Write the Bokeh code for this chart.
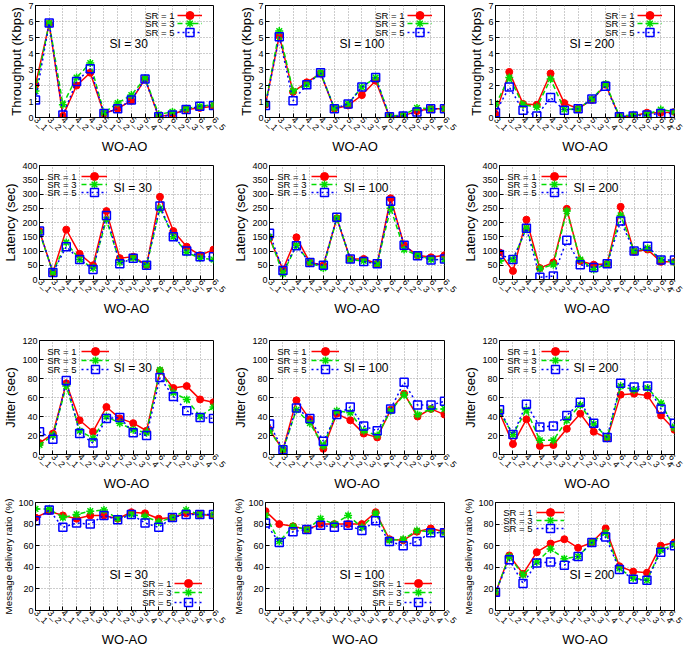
import math
from bokeh.plotting import figure
from bokeh.layouts import column, row
from bokeh.models import FixedTicker, Legend, LegendItem, Label, Range1d
from bokeh.embed import file_html
from bokeh.resources import INLINE

# ---------------- data ----------------
categories = ["3_1", "3_2", "4_1", "4_2", "4_3", "5_1", "5_2", "5_3", "5_4",
              "6_1", "6_2", "6_3", "6_4", "6_5"]
si_values = [30, 100, 200]
sr_labels = ["SR = 1", "SR = 3", "SR = 5"]

# Throughput (Kbps)
thr_si30_sr1 = [2.05, 5.85, 0.10, 2.00, 2.80, 0.25, 0.55, 1.05, 2.40, 0.05, 0.20, 0.50, 0.60, 0.70]
thr_si30_sr3 = [1.65, 5.90, 0.80, 2.50, 3.40, 0.30, 0.90, 1.40, 2.45, 0.20, 0.35, 0.55, 0.70, 0.80]
thr_si30_sr5 = [1.10, 5.90, 0.15, 2.25, 3.05, 0.25, 0.55, 1.10, 2.40, 0.05, 0.15, 0.50, 0.70, 0.75]
thr_si100_sr1 = [0.80, 5.10, 1.60, 2.20, 2.75, 0.55, 0.75, 1.40, 2.30, 0.05, 0.10, 0.40, 0.55, 0.55]
thr_si100_sr3 = [0.85, 5.40, 1.65, 2.05, 2.80, 0.60, 0.85, 1.90, 2.50, 0.10, 0.15, 0.60, 0.55, 0.55]
thr_si100_sr5 = [0.75, 5.05, 1.05, 2.05, 2.80, 0.55, 0.85, 1.90, 2.50, 0.05, 0.10, 0.35, 0.55, 0.55]
thr_si200_sr1 = [0.20, 2.85, 0.85, 0.80, 2.75, 0.90, 0.55, 1.10, 2.05, 0.05, 0.10, 0.30, 0.30, 0.35]
thr_si200_sr3 = [0.80, 2.50, 0.80, 0.65, 2.40, 0.50, 0.55, 1.15, 2.10, 0.10, 0.15, 0.20, 0.50, 0.35]
thr_si200_sr5 = [0.30, 1.90, 0.45, 0.10, 1.25, 0.45, 0.55, 1.15, 1.95, 0.05, 0.10, 0.15, 0.25, 0.25]

# Latency (sec)
lat_si30_sr1 = [170, 25, 175, 90, 50, 240, 75, 80, 50, 290, 170, 115, 85, 105]
lat_si30_sr3 = [165, 25, 130, 70, 40, 210, 60, 75, 50, 250, 150, 95, 75, 70]
lat_si30_sr5 = [170, 25, 115, 70, 35, 225, 55, 75, 50, 258, 150, 100, 80, 80]
lat_si100_sr1 = [145, 35, 148, 60, 50, 215, 72, 72, 55, 285, 120, 85, 78, 85]
lat_si100_sr3 = [150, 20, 120, 60, 40, 215, 70, 65, 55, 250, 105, 85, 70, 70]
lat_si100_sr5 = [162, 32, 118, 60, 50, 218, 72, 63, 55, 275, 120, 83, 68, 72]
lat_si200_sr1 = [95, 30, 210, 40, 60, 248, 65, 52, 55, 255, 97, 105, 62, 62]
lat_si200_sr3 = [65, 70, 180, 38, 52, 240, 70, 35, 55, 225, 100, 110, 70, 60]
lat_si200_sr5 = [88, 70, 180, 8, 12, 138, 52, 42, 55, 205, 100, 117, 68, 68]

# Jitter (sec)
jit_si30_sr1 = [12, 22, 75, 36, 24, 50, 38, 33, 25, 88, 70, 72, 58, 55]
jit_si30_sr3 = [10, 20, 72, 25, 17, 40, 33, 26, 23, 89, 65, 58, 40, 50]
jit_si30_sr5 = [24, 16, 78, 22, 12, 38, 39, 23, 20, 81, 61, 46, 39, 38]
jit_si100_sr1 = [26, 5, 57, 37, 6, 43, 36, 22, 18, 47, 64, 40, 48, 42]
jit_si100_sr3 = [25, 5, 47, 33, 9, 46, 44, 25, 20, 46, 63, 42, 48, 48]
jit_si100_sr5 = [32, 5, 49, 38, 14, 42, 50, 30, 25, 48, 76, 52, 52, 56]
jit_si200_sr1 = [44, 11, 37, 9, 10, 27, 43, 24, 17, 63, 64, 62, 41, 26]
jit_si200_sr3 = [45, 21, 47, 15, 15, 36, 52, 32, 18, 72, 68, 70, 54, 28]
jit_si200_sr5 = [47, 21, 53, 29, 30, 41, 55, 33, 18, 75, 71, 72, 48, 33]

# Message delivery ratio (%)
mdr_si30_sr1 = [86, 92, 88, 85, 88, 88, 85, 91, 90, 85, 86, 90, 89, 88]
mdr_si30_sr3 = [94, 94, 86, 89, 92, 93, 85, 89, 87, 82, 86, 93, 89, 89]
mdr_si30_sr5 = [83, 93, 77, 81, 80, 88, 84, 89, 81, 77, 86, 89, 89, 89]
mdr_si100_sr1 = [92, 80, 78, 75, 80, 80, 80, 80, 91, 66, 65, 73, 76, 73]
mdr_si100_sr3 = [88, 64, 78, 75, 85, 80, 88, 77, 90, 65, 66, 74, 73, 72]
mdr_si100_sr5 = [81, 63, 73, 75, 79, 77, 79, 74, 83, 64, 60, 64, 72, 72]
mdr_si200_sr1 = [16, 51, 34, 54, 62, 66, 58, 63, 76, 41, 36, 35, 60, 63]
mdr_si200_sr3 = [17, 50, 33, 45, 57, 48, 50, 63, 72, 39, 30, 28, 56, 61]
mdr_si200_sr5 = [17, 47, 25, 44, 45, 42, 50, 63, 68, 38, 29, 28, 54, 60]

metric_labels = ["Throughput (Kbps)", "Latency (sec)", "Jitter (sec)",
                 "Message delivery ratio (%)"]
thr_ticks = [0, 1, 2, 3, 4, 5, 6, 7]
lat_ticks = [0, 50, 100, 150, 200, 250, 300, 350, 400]
jit_ticks = [0, 20, 40, 60, 80, 100, 120]
mdr_ticks = [0, 20, 40, 60, 80, 100]

grid_data = [
    [[thr_si30_sr1, thr_si30_sr3, thr_si30_sr5],
     [thr_si100_sr1, thr_si100_sr3, thr_si100_sr5],
     [thr_si200_sr1, thr_si200_sr3, thr_si200_sr5]],
    [[lat_si30_sr1, lat_si30_sr3, lat_si30_sr5],
     [lat_si100_sr1, lat_si100_sr3, lat_si100_sr5],
     [lat_si200_sr1, lat_si200_sr3, lat_si200_sr5]],
    [[jit_si30_sr1, jit_si30_sr3, jit_si30_sr5],
     [jit_si100_sr1, jit_si100_sr3, jit_si100_sr5],
     [jit_si200_sr1, jit_si200_sr3, jit_si200_sr5]],
    [[mdr_si30_sr1, mdr_si30_sr3, mdr_si30_sr5],
     [mdr_si100_sr1, mdr_si100_sr3, mdr_si100_sr5],
     [mdr_si200_sr1, mdr_si200_sr3, mdr_si200_sr5]],
]
row_ticks = [thr_ticks, lat_ticks, jit_ticks, mdr_ticks]

# ---------------- styling / layout ----------------
FONT = "Liberation Sans"
COLORS = ["#ff0000", "#00dd00", "#0000ff"]
DASHES = ["solid", "5 3", "2 3"]
MARKERS = ["circle", "asterisk", "square"]
MSIZES = [7, 8, 8]

LEFT = 35
COL_W = [230, 230, 224]
FRAME_W = [178, 179, 179]
ROW_H = [160, 171, 164, 156]
ROW_BT = [5, 5, 9, 7]
ROW_BB = [43, 52, 41, 41]
YLAB_SIZE = ["13px", "13px", "13px", "9.8px"]


def legend_spec(r, c):
    # glyph x, glyph width, text right x, row centres (px), measured from bottom?
    if r == 0:
        return 142, 25, 139, [10, 18, 27], False
    if r == 1:
        return 42, 26, 37, [11, 19, 27], False
    if r == 2:
        return 42, 28, 37, [11, 20, 29], False
    if c < 2:
        return 139, 28, 136, [27, 18, 8], True
    return 41, 28, 37, [10, 18, 26], False

SI_POS = [(74, 38, False), (74, 22, False), (74, 27, False), (74, 36, True)]


def make_panel(r, c):
    fh = ROW_H[r] - ROW_BT[r] - ROW_BB[r]
    ticks = row_ticks[r]
    p = figure(width=COL_W[c], height=ROW_H[r], title=None,
               x_range=Range1d(0, len(categories) - 1),
               y_range=Range1d(ticks[0], ticks[-1]),
               output_backend="svg", toolbar_location=None,
               min_border_left=LEFT, min_border_right=COL_W[c] - LEFT - FRAME_W[c],
               min_border_top=ROW_BT[r], min_border_bottom=ROW_BB[r])
    p.background_fill_color = "white"
    p.border_fill_color = "white"
    p.outline_line_color = "black"
    p.outline_line_width = 1

    xs = list(range(len(categories)))
    p.xaxis.ticker = FixedTicker(ticks=xs)
    p.xaxis.major_label_overrides = {i: lab for i, lab in enumerate(categories)}
    p.xaxis.major_label_orientation = -math.pi / 4
    p.xaxis.axis_label = "WO-AO"
    p.yaxis.ticker = FixedTicker(ticks=ticks)
    p.yaxis.axis_label = metric_labels[r]
    for ax in (p.xaxis[0], p.yaxis[0]):
        ax.axis_label_text_font = FONT
        ax.axis_label_text_font_style = "normal"
        ax.axis_label_text_font_size = "13px"
        ax.axis_label_text_color = "black"
        ax.major_label_text_font = FONT
        ax.major_label_text_font_size = "9px"
        ax.major_label_text_color = "black"
        ax.major_tick_in = 4
        ax.major_tick_out = 0
        ax.minor_tick_line_color = None
        ax.axis_line_color = "black"
        ax.major_tick_line_color = "black"
        ax.axis_label_standoff = 1
        ax.major_label_standoff = 2
    p.xaxis[0].axis_label_standoff = 0
    p.xaxis[0].major_label_standoff = 1
    p.yaxis[0].axis_label_text_font_size = YLAB_SIZE[r]
    p.grid.grid_line_color = "#9a9a9a"
    p.grid.grid_line_dash = "1 2"
    p.grid.grid_line_width = 1

    gx, gw, tx, centers, from_bottom = legend_spec(r, c)
    for k in range(3):
        ys = grid_data[r][c][k]
        ln = p.line(xs, ys, line_color=COLORS[k], line_width=1.5, line_dash=DASHES[k])
        if MARKERS[k] == "square":
            sc = p.scatter(xs, ys, marker="square", size=MSIZES[k], line_color=COLORS[k],
                           line_width=1.5, fill_color=None)
        elif MARKERS[k] == "asterisk":
            sc = p.scatter(xs, ys, marker="asterisk", size=MSIZES[k], line_color=COLORS[k],
                           line_width=1.5)
        else:
            sc = p.scatter(xs, ys, marker="circle", size=MSIZES[k], line_color=COLORS[k],
                           fill_color=COLORS[k])
        cy = centers[k] if from_bottom else fh - centers[k]
        leg = Legend(items=[LegendItem(label=" ", renderers=[ln, sc])],
                     location=(gx, cy - 10), orientation="vertical",
                     glyph_width=gw, glyph_height=20, label_width=0, label_height=20,
                     label_standoff=0, spacing=0, padding=0, margin=0,
                     border_line_alpha=0, background_fill_alpha=0,
                     label_text_font_size="6px")
        p.add_layout(leg)
        p.add_layout(Label(x=tx, y=cy, x_units="screen", y_units="screen",
                           text=sr_labels[k], text_align="right", text_baseline="middle",
                           text_font=FONT, text_font_size="9.5px", text_color="black"))

    sx, sy, sb = SI_POS[r]
    sy_px = sy if sb else fh - sy
    p.add_layout(Label(x=sx, y=sy_px, x_units="screen", y_units="screen",
                       text="SI = %d" % si_values[c], text_align="left",
                       text_baseline="middle", text_font=FONT,
                       text_font_size="12px", text_color="black"))
    return p


rows = []
for r in range(4):
    rows.append(row(*[make_panel(r, c) for c in range(3)]))
layout = column(*rows)

open("out.html", "w").write(file_html(layout, INLINE))
